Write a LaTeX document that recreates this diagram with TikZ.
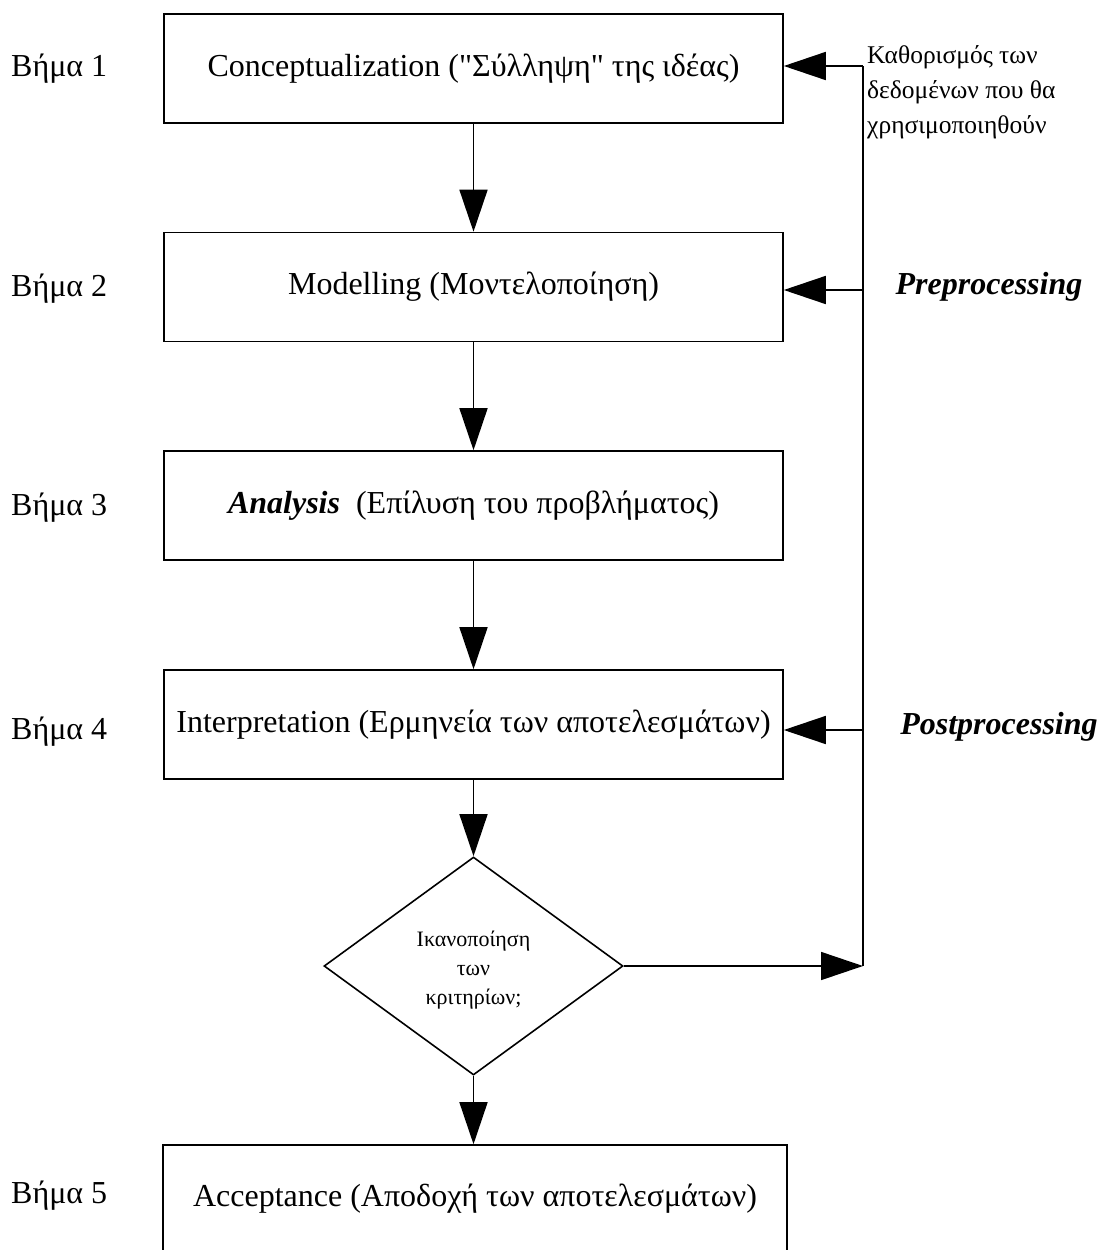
\documentclass[tikz,border=0pt]{standalone}
\usepackage{fontspec}
\setmainfont{Liberation Serif}
\newfontfamily\plainserif[Ligatures=ResetAll]{Liberation Serif}
\usetikzlibrary{arrows.meta,shapes.geometric}
\begin{document}
\begin{tikzpicture}[x=1pt,y=-1pt,
  stepbox/.style={draw, line width=1.6pt, inner sep=0pt, minimum width=619pt, minimum height=109pt,
    font=\fontsize{32}{37}\selectfont},
  steplabel/.style={anchor=west, inner sep=0pt, font=\fontsize{32}{37}\selectfont},
  sidelabel/.style={inner sep=0pt, font=\fontsize{32}{37}\selectfont\bfseries\itshape},
  arr/.style={line width=1.6pt, -{Triangle[length=42pt,width=28pt]}},
  ln/.style={line width=1.6pt}]
\useasboundingbox (0,0) rectangle (1105,1250);
\clip (0,0) rectangle (1105,1250);
\fill[white] (0,0) rectangle (1105,1250);

\node[stepbox] (b1) at (473.5,68.5) {Conceptualization ({\plainserif"}Σύλληψη{\plainserif"} της ιδέας)};
\node[stepbox] (b2) at (473.5,287) {Modelling (Μοντελοποίηση)};
\node[stepbox] (b3) at (473.5,505.5) {\textbf{\textit{Analysis}}\ \ (Επίλυση του προβλήματος)};
\node[stepbox] (b4) at (473.5,724.5) {Interpretation (Ερμηνεία των αποτελεσμάτων)};
\node[draw, diamond, line width=1.6pt, inner sep=0pt, minimum width=299pt, minimum height=218pt,
  align=center, font=\fontsize{22}{29}\selectfont] (d) at (473.5,966) {\\[-6pt]Ικανοποίηση\\των\\κριτηρίων;};
\node[stepbox, minimum width=624pt, minimum height=108pt] (b5) at (475,1199) {Acceptance (Αποδοχή των αποτελεσμάτων)};

\node[steplabel] (s1) at (11,69) {Βήμα 1};
\node[steplabel] (s2) at (11,289) {Βήμα 2};
\node[steplabel] (s3) at (11,508) {Βήμα 3};
\node[steplabel] (s4) at (11,732) {Βήμα 4};
\node[steplabel] (s5) at (11,1196) {Βήμα 5};

\node[anchor=west, inner sep=0pt, align=left, font=\fontsize{25.5}{35}\selectfont] (cap) at (867,92)
  {Καθορισμός των\\δεδομένων που θα\\χρησιμοποιηθούν};
\node[sidelabel] (pre) at (989,287) {Preprocessing};
\node[sidelabel] (post) at (999,727) {Postprocessing};

\coordinate (r1) at (863,66);
\coordinate (r2) at (863,290);
\coordinate (r4) at (863,730);
\coordinate (rd) at (863,966);

\draw[arr] (b1) -- (b2);
\draw[arr] (b2) -- (b3);
\draw[arr] (b3) -- (b4);
\draw[arr] (b4) -- (d);
\draw[arr] (d) -- (d |- b5.north);

\draw[ln] (r1) -- (rd);
\draw[arr] (r1) -- (r1 -| b1.east);
\draw[arr] (r2) -- (r2 -| b2.east);
\draw[arr] (r4) -- (r4 -| b4.east);
\draw[arr] (d.east) -- (rd);
\end{tikzpicture}
\end{document}
